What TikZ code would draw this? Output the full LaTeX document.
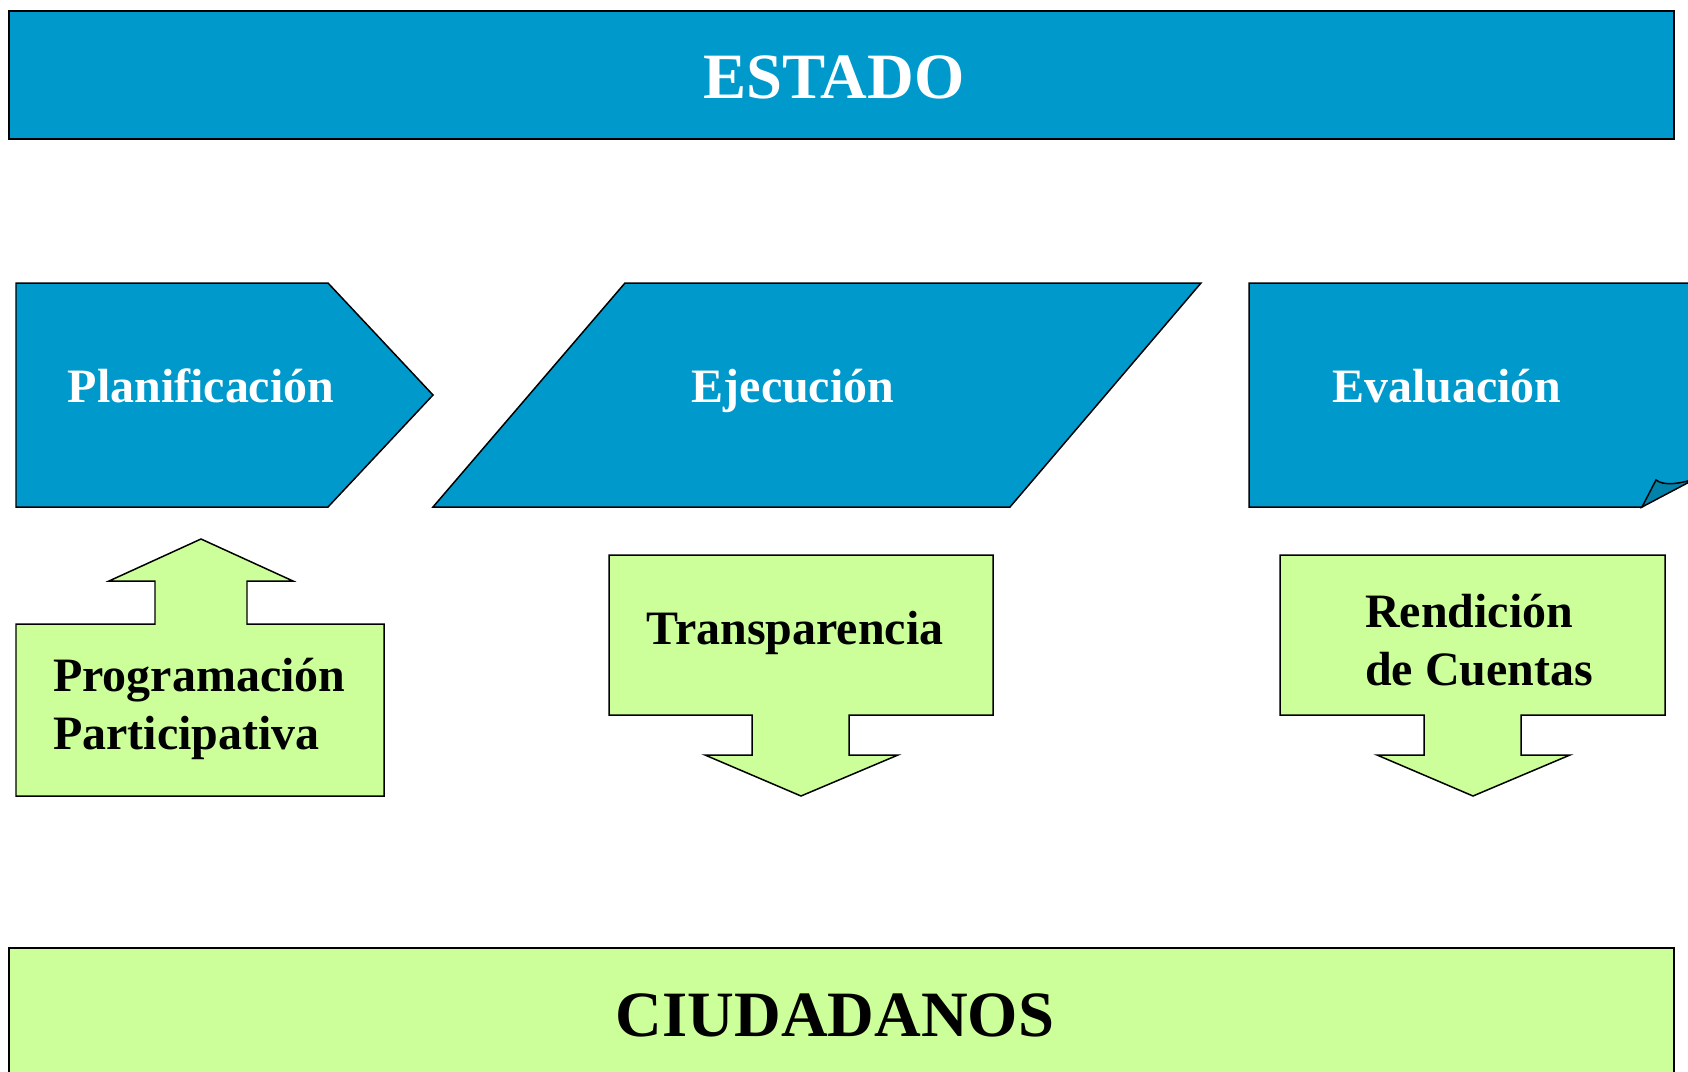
\documentclass[tikz,border=0pt]{standalone}
\usepackage{fontspec}
\setmainfont{Liberation Serif}
\usetikzlibrary{positioning}

\definecolor{estadoblue}{HTML}{0099CC}
\definecolor{foldblue}{HTML}{0082AA}
\definecolor{citizengreen}{HTML}{CCFF99}

\begin{document}
\begin{tikzpicture}[
    x=0.02cm, y=-0.02cm,
    stage/.style={fill=estadoblue, draw=black, line width=0.85pt},
    actor/.style={fill=citizengreen, draw=black, line width=0.85pt},
    stagetext/.style={text=white, font=\bfseries\fontsize{27.3}{33}\selectfont},
    actortext/.style={text=black, font=\bfseries\fontsize{27.3}{33}\selectfont, align=left},
    titletext/.style={font=\bfseries\fontsize{36.8}{40}\selectfont}
]
\useasboundingbox (0,0) rectangle (1688,1072);
\clip (0,0) rectangle (1688,1072);

% State and citizens bands
\draw[stage] (9,11) rectangle (1674,139);
\node[titletext, text=white, anchor=base] (estado) at (834,98) {ESTADO};
\draw[actor] (9,948) rectangle (1674,1090);
\node[titletext, anchor=base] (ciudadanos) at (835,1036) {CIUDADANOS};

% Stages
\draw[stage] (16,283) -- (328,283) -- (433,395) -- (328,507) -- (16,507) -- cycle;
\node[stagetext, anchor=base] (planificacion) at (201,402) {Planificación};
\draw[stage] (433,507) -- (625,283) -- (1201,283) -- (1010,507) -- cycle;
\node[stagetext, anchor=base] (ejecucion) at (793,402) {Ejecución};
\draw[stage] (1249,283) -- (1700,283) -- (1700,477) -- (1642,507) -- (1249,507) -- cycle;
\fill[white] (1642,507) -- (1700,477) -- (1700,510) -- cycle;
\draw[fill=foldblue, line width=0.85pt] (1642,507) -- (1656,480)
    .. controls (1664,486) and (1678,484) .. (1695,479) -- cycle;
\node[stagetext, anchor=base] (evaluacion) at (1447,402) {Evaluación};

% Participation arrows
\draw[actor] (16,624) -- (155,624) -- (155,581) -- (109,581) -- (201,539)
    -- (293,581) -- (247,581) -- (247,624) -- (384,624) -- (384,796) -- (16,796) -- cycle;
\node[actortext, anchor=base west] (programacion) at (47,749) {Programación\\Participativa};

\draw[actor] (609,555) -- (993,555) -- (993,715) -- (849,715) -- (849,755) -- (898,755)
    -- (801,796) -- (705,755) -- (752,755) -- (752,715) -- (609,715) -- cycle;
\node[actortext, anchor=base] (transparencia) at (795,644) {Transparencia};

\draw[actor] (1280,555) -- (1665,555) -- (1665,715) -- (1521,715) -- (1521,755) -- (1570,755)
    -- (1473,796) -- (1377,755) -- (1424,755) -- (1424,715) -- (1280,715) -- cycle;
\node[actortext, anchor=base west] (rendicion) at (1359,685) {Rendición\\de Cuentas};

\end{tikzpicture}
\end{document}
